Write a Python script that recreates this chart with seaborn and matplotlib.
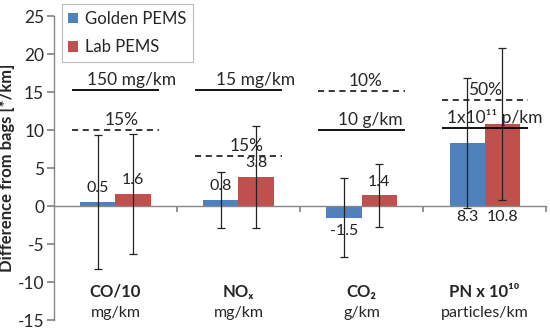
import pandas as pd
import matplotlib
matplotlib.use("Agg")
import matplotlib.pyplot as plt
import seaborn as sns

# data
categories = ["CO/10", "NOx", "CO2", "PN"]
cat_titles = ["CO/10", "NOₓ", "CO₂", "PN x 10¹⁰"]
cat_units = ["mg/km", "mg/km", "g/km", "particles/km"]
series = ["Golden PEMS", "Lab PEMS"]
golden = [0.5, 0.8, -1.5, 8.3]
lab = [1.6, 3.8, 1.4, 10.8]
golden_err = [8.8, 3.65, 5.2, 8.6]
lab_err = [7.95, 6.7, 4.15, 10.0]

solid_vals = [15.3, 15.3, 10.0, 10.3]
solid_labels = ["150 mg/km", "15 mg/km", "10 g/km", "1x10¹¹ p/km"]
dashed_vals = [10.0, 6.6, 15.2, 14.0]
dashed_labels = ["15%", "15%", "10%", "50%"]

colors = ["#4F81BD", "#C0504D"]
axis_grey = "#868686"

sns.set_theme(style="white")
plt.rcParams["font.family"] = ["Lato", "DejaVu Sans"]
plt.rcParams["axes.unicode_minus"] = False

df = pd.DataFrame({
    "cat": categories * 2,
    "series": [series[0]] * 4 + [series[1]] * 4,
    "value": golden + lab,
})

fig = plt.figure(figsize=(5.5, 3.29), dpi=100)
ax = fig.add_axes([0.098, 0.027, 0.895, 0.924])
sns.barplot(data=df, x="cat", y="value", hue="series", order=categories,
            palette=colors, width=0.57, saturation=1, errorbar=None,
            linewidth=0, ax=ax)

# error bars and data labels at the bar centres
errs = [golden_err, lab_err]
vals = [golden, lab]
bar_groups = list(ax.containers)
for k, cont in enumerate(bar_groups):
    for i, bar in enumerate(cont):
        xc = bar.get_x() + bar.get_width() / 2
        v = vals[k][i]
        ax.errorbar(xc, v, yerr=errs[k][i], color="#222222", lw=0.9,
                    capsize=3, capthick=0.9, zorder=4)
        if i == 3:
            ax.annotate(f"{v:.1f}", (xc, 0), xytext=(0, -3),
                        textcoords="offset points", ha="center", va="top",
                        fontsize=11.5, color="#222222", zorder=5)
        elif v >= 0:
            ax.annotate(f"{v:.1f}", (xc, v), xytext=(0, 5),
                        textcoords="offset points", ha="center", va="bottom",
                        fontsize=11.5, color="#222222", zorder=5)
        else:
            ax.annotate(f"{v:.1f}", (xc, v), xytext=(0, -5),
                        textcoords="offset points", ha="center", va="top",
                        fontsize=11.5, color="#222222", zorder=5)

# limit lines with their labels
solid_dx = [0.13, 0.14, 0.07, 0.08]
dashed_dx = [0.05, 0.07, 0.03, 0.0]
for i in range(len(categories)):
    ax.hlines(solid_vals[i], i - 0.35, i + 0.35, color="black", lw=1.3, zorder=3)
    ax.hlines(dashed_vals[i], i - 0.35, i + 0.35, color="black", lw=1.1,
              linestyles=(0, (4, 3)), zorder=3)
    ax.annotate(solid_labels[i], (i + solid_dx[i], solid_vals[i]), xytext=(0, 1.5),
                textcoords="offset points", ha="center", va="bottom", fontsize=12.5)
    ax.annotate(dashed_labels[i], (i + dashed_dx[i], dashed_vals[i]), xytext=(0, 1.5),
                textcoords="offset points", ha="center", va="bottom", fontsize=12.5)
    ax.text(i, -11.3, cat_titles[i], ha="center", va="center",
            fontsize=12, fontweight="bold")
    ax.text(i, -14.1, cat_units[i], ha="center", va="center", fontsize=11.5)

ax.set_xlim(-0.5, 3.5)
ax.set_ylim(-15, 25)
ax.set_yticks(range(-15, 26, 5))
ax.set_xticks([0.5, 1.5, 2.5, 3.5])
ax.set_xticklabels([])
ax.set_xlabel("")
ax.set_ylabel("Difference from bags [*/km]", fontsize=12, fontweight="bold")
ax.yaxis.set_label_coords(-0.08, 0.5)
ax.spines["bottom"].set_position(("data", 0))
for s in ["top", "right"]:
    ax.spines[s].set_visible(False)
for s in ["left", "bottom"]:
    ax.spines[s].set_color(axis_grey)
    ax.spines[s].set_linewidth(1)
ax.tick_params(axis="y", direction="out", length=5, color=axis_grey, labelsize=12.5, pad=2, left=True)
ax.tick_params(axis="x", direction="out", length=4, color=axis_grey, bottom=True)

leg = ax.legend(loc="upper left", bbox_to_anchor=(0.016, 1.039), borderaxespad=0,
                fontsize=12, frameon=True, fancybox=False, edgecolor="#aaaaaa",
                handlelength=0.6, handleheight=0.6, handletextpad=0.4,
                labelspacing=0.75, borderpad=0.4)
leg.get_frame().set_linewidth(0.8)

fig.savefig("out.png", dpi=100)
